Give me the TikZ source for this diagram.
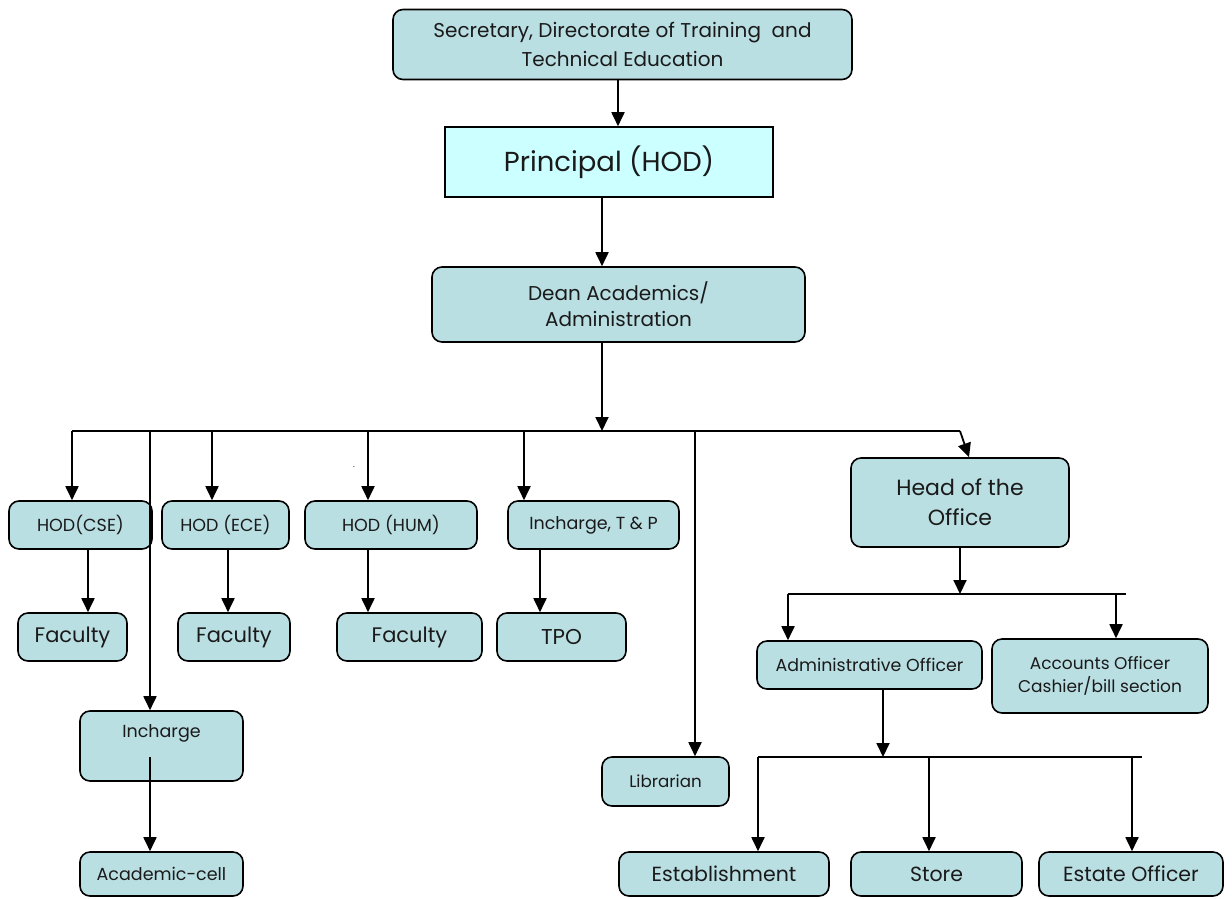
\documentclass[tikz,border=0pt]{standalone}
\usepackage{fontspec}
\setmainfont{Poppins}
\usetikzlibrary{arrows.meta,calc}
\definecolor{boxfill}{HTML}{BADFE3}
\definecolor{princfill}{HTML}{CCFFFF}
\definecolor{txt}{HTML}{1A1A1A}
\begin{document}
\begin{tikzpicture}[x=1pt,y=-1pt,
  box/.style={draw=black,line width=1.6pt,fill=boxfill,rounded corners=10pt,inner sep=0pt,align=center,text=txt},
  conn/.style={line width=1.8pt,draw=black},
  arr/.style={conn,-{Triangle[length=14pt,width=13pt]}}
]
\useasboundingbox (0,0) rectangle (1232,898);
\fill[white] (0,0) rectangle (1232,898);

% nodes
\node[box,minimum width=459pt,minimum height=70pt,font=\fontsize{20}{29}\selectfont] (sec) at (622.5,44.5)
  {Secretary, Directorate of Training\ \ and\\ Technical Education};
\node[box,rounded corners=0pt,fill=princfill,minimum width=328pt,minimum height=70pt,font=\fontsize{27.5}{30}\selectfont] (prin) at (609,162)
  {Principal (HOD)};
\node[box,minimum width=373pt,minimum height=75pt,font=\fontsize{20}{26}\selectfont] (dean) at (618.5,304.5)
  {Dean Academics/\\ Administration};

\node[box,minimum width=143pt,minimum height=48pt,font=\fontsize{17.5}{20}\selectfont] (hodcse) at (80.5,525) {HOD(CSE)};
\node[box,minimum width=127pt,minimum height=48pt,font=\fontsize{17.5}{20}\selectfont] (hodece) at (225.5,525) {HOD (ECE)};
\node[box,minimum width=172pt,minimum height=48pt,font=\fontsize{17.5}{20}\selectfont] (hodhum) at (391,525) {HOD (HUM)};
\node[box,minimum width=171pt,minimum height=48pt,font=\fontsize{17.5}{20}\selectfont] (tp) at (593.5,525) {Incharge, T \& P};

\node[box,minimum width=109pt,minimum height=48pt,font=\fontsize{21}{24}\selectfont] (fac1) at (72.5,637) {Faculty};
\node[box,minimum width=112pt,minimum height=48pt,font=\fontsize{21}{24}\selectfont] (fac2) at (234,637) {Faculty};
\node[box,minimum width=145pt,minimum height=48pt,font=\fontsize{21}{24}\selectfont] (fac3) at (409.5,637) {Faculty};
\node[box,minimum width=129pt,minimum height=48pt,font=\fontsize{21.5}{24}\selectfont] (tpo) at (561.5,637) {TPO};

\node[box,minimum width=163pt,minimum height=70pt,text height=13pt,text depth=30pt,font=\fontsize{17.5}{20}\selectfont] (inch) at (161.5,746) {Incharge};
\node[box,minimum width=163pt,minimum height=44pt,font=\fontsize{17.5}{20}\selectfont] (acad) at (161.5,874) {Academic-cell};
\node[box,minimum width=127pt,minimum height=49pt,font=\fontsize{16.7}{20}\selectfont] (lib) at (665.5,781.5) {Librarian};

\node[box,minimum width=218pt,minimum height=89pt,font=\fontsize{22}{30}\selectfont] (hoo) at (960,502.5) {Head of the\\ Office};
\node[box,minimum width=225pt,minimum height=48pt,font=\fontsize{17.4}{20}\selectfont] (admin) at (869.5,665) {Administrative Officer};
\node[box,minimum width=216pt,minimum height=74pt,font=\fontsize{17}{23}\selectfont] (acct) at (1100,676) {Accounts Officer\\ Cashier/bill section};

\node[box,minimum width=210pt,minimum height=44pt,font=\fontsize{20.5}{24}\selectfont] (est) at (724,874) {Establishment};
\node[box,minimum width=171pt,minimum height=44pt,font=\fontsize{20.5}{24}\selectfont] (store) at (936.5,874) {Store};
\node[box,minimum width=184pt,minimum height=44pt,font=\fontsize{20.5}{24}\selectfont] (estate) at (1131,874) {Estate Officer};

\node[inner sep=0pt,font=\fontsize{8}{8}\selectfont] (dot) at (354,467) {.};

% coordinates
\coordinate (a0) at (618,100);
\coordinate (a1) at (602,200);
\coordinate (b0) at (602,431);
\coordinate (b1) at (72,431);
\coordinate (b2) at (150,431);
\coordinate (b3) at (212,431);
\coordinate (b4) at (368,431);
\coordinate (b5) at (524,431);
\coordinate (b6) at (695,431);
\coordinate (bR) at (960,431);
\coordinate (f1) at (88,600);
\coordinate (f2) at (228,600);
\coordinate (f3) at (368,600);
\coordinate (f4) at (540,600);
\coordinate (inchin) at (150,757);
\coordinate (s0) at (960,594);
\coordinate (sL) at (788,594);
\coordinate (sR) at (1126,594);
\coordinate (s2) at (1116,594);
\coordinate (t0) at (883,757);
\coordinate (tL) at (758,757);
\coordinate (tR) at (1142,757);
\coordinate (t2) at (929,757);
\coordinate (t3) at (1132,757);

% connectors
\draw[arr] (sec.south -| a0) -- (a0 |- prin.north);
\draw[arr] (prin.south -| a1) -- (a1 |- dean.north);
\draw[arr] (dean.south -| b0) -- (b0);
\draw[conn] (b1) -- (bR);
\draw[arr] (bR) -- ($(hoo.north)+(9,0)$);
\draw[arr] (b1) -- (b1 |- hodcse.north);
\draw[arr] (b2) -- (b2 |- inch.north);
\draw[arr] (b3) -- (b3 |- hodece.north);
\draw[arr] (b4) -- (b4 |- hodhum.north);
\draw[arr] (b5) -- (b5 |- tp.north);
\draw[arr] (b6) -- (b6 |- lib.north);

\draw[arr] (hodcse.south -| f1) -- (f1 |- fac1.north);
\draw[arr] (hodece.south -| f2) -- (f2 |- fac2.north);
\draw[arr] (hodhum.south -| f3) -- (f3 |- fac3.north);
\draw[arr] (tp.south -| f4) -- (f4 |- tpo.north);
\draw[arr] (inchin) -- (inchin |- acad.north);

\draw[arr] (hoo.south) -- (s0);
\draw[conn] (sL) -- (sR);
\draw[arr] (sL) -- (sL |- admin.north);
\draw[arr] (s2) -- (s2 |- acct.north);

\draw[arr] (admin.south -| t0) -- (t0);
\draw[conn] (tL) -- (tR);
\draw[arr] (tL) -- (tL |- est.north);
\draw[arr] (t2) -- (t2 |- store.north);
\draw[arr] (t3) -- (t3 |- estate.north);
\end{tikzpicture}
\end{document}
